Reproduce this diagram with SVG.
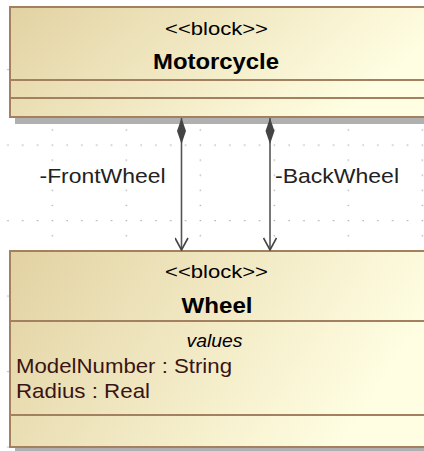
<svg xmlns="http://www.w3.org/2000/svg" width="424" height="451" viewBox="0 0 424 451">
<style>
.box{stroke:#a3805f;stroke-width:2;fill:url(#g)}
.sep{stroke:#a3805f;stroke-width:2}
.sh{fill:#b0b0b0}
.t{font-family:"Liberation Sans",Arial,sans-serif;fill:#000}
.st{font-size:19px;text-anchor:middle}
.nm{font-size:22px;font-weight:bold;text-anchor:middle}
.at{font-size:21px;fill:#3a1414}
.lbl{font-size:21px;fill:#222}
.ln{stroke:#555;stroke-width:1.6;fill:none}
</style>
<defs>
<linearGradient id="g" x1="0" y1="0" x2="1" y2="0.3">
<stop offset="0" stop-color="#e2d2a2"/>
<stop offset="1" stop-color="#fffee2"/>
</linearGradient>
<pattern id="grid" patternUnits="userSpaceOnUse" x="51.7" y="69" width="74" height="75.5">
<rect x="0" y="0" width="1.2" height="1.2" fill="#9a9a9a"/>
<rect x="14.8" y="0" width="1.2" height="1.2" fill="#9a9a9a"/>
<rect x="29.6" y="0" width="1.2" height="1.2" fill="#9a9a9a"/>
<rect x="44.4" y="0" width="1.2" height="1.2" fill="#9a9a9a"/>
<rect x="59.2" y="0" width="1.2" height="1.2" fill="#9a9a9a"/>
<rect x="0" y="15.1" width="1.2" height="1.2" fill="#9a9a9a"/>
<rect x="0" y="30.2" width="1.2" height="1.2" fill="#9a9a9a"/>
<rect x="0" y="45.3" width="1.2" height="1.2" fill="#9a9a9a"/>
<rect x="0" y="60.4" width="1.2" height="1.2" fill="#9a9a9a"/>
</pattern>
<marker id="diamond" viewBox="0 0 26 10" refX="0" refY="5" markerWidth="26" markerHeight="10" markerUnits="userSpaceOnUse" orient="auto">
<path d="M0,5 L13,0.5 L26,5 L13,9.5 Z" fill="#444"/>
</marker>
<marker id="arrow" viewBox="0 0 14 14" refX="13" refY="7" markerWidth="14" markerHeight="14" markerUnits="userSpaceOnUse" orient="auto">
<path d="M1,0.5 L13,7 L1,13.5" fill="none" stroke="#444" stroke-width="1.6"/>
</marker>
</defs>
<rect width="424" height="451" fill="#fff"/>
<rect width="424" height="451" fill="url(#grid)"/>

<g id="Motorcycle">
<rect class="sh" x="15" y="13" width="420" height="111"/>
<rect class="box" x="10" y="7" width="420" height="110"/>
<line class="sep" x1="10" y1="80" x2="430" y2="80"/>
<line class="sep" x1="10" y1="98" x2="430" y2="98"/>
<text class="t st" x="216.5" y="35" textLength="103" lengthAdjust="spacingAndGlyphs">&lt;&lt;block&gt;&gt;</text>
<text class="t nm" x="216" y="69" textLength="126" lengthAdjust="spacingAndGlyphs">Motorcycle</text>
</g>

<g id="Wheel">
<rect class="sh" x="15" y="257" width="420" height="194"/>
<rect class="box" x="10" y="251" width="420" height="196"/>
<line class="sep" x1="10" y1="321" x2="430" y2="321"/>
<line class="sep" x1="10" y1="415" x2="430" y2="415"/>
<text class="t st" x="216.5" y="278" textLength="103" lengthAdjust="spacingAndGlyphs">&lt;&lt;block&gt;&gt;</text>
<text class="t nm" x="217" y="313" textLength="71" lengthAdjust="spacingAndGlyphs">Wheel</text>
<text class="t st" x="214.5" y="347" font-style="italic" textLength="56" lengthAdjust="spacingAndGlyphs">values</text>
<text class="t at" x="16" y="373" textLength="216" lengthAdjust="spacingAndGlyphs">ModelNumber : String</text>
<text class="t at" x="16" y="398" textLength="134" lengthAdjust="spacingAndGlyphs">Radius : Real</text>
</g>

<g id="connectors">
<g id="FrontWheel">
<line class="ln" x1="181.5" y1="118" x2="181.5" y2="250" marker-start="url(#diamond)" marker-end="url(#arrow)"/>
<text class="t lbl" x="39.5" y="183" textLength="126" lengthAdjust="spacingAndGlyphs">-FrontWheel</text>
</g>
<g id="BackWheel">
<line class="ln" x1="270" y1="118" x2="270" y2="250" marker-start="url(#diamond)" marker-end="url(#arrow)"/>
<text class="t lbl" x="275" y="183" textLength="124" lengthAdjust="spacingAndGlyphs">-BackWheel</text>
</g>
</g>
</svg>
